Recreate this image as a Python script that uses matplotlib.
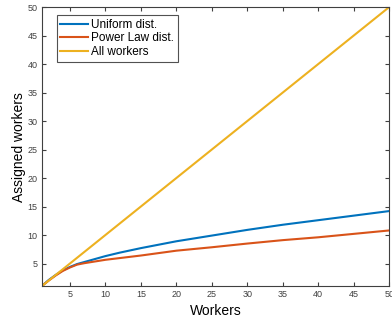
import matplotlib
matplotlib.use('Agg')
import matplotlib.pyplot as plt

# Dati
workers = [1, 2, 3, 4, 5, 6, 7, 8, 9, 10, 12, 15, 20, 25, 30, 35, 40, 45, 50]
uniform = [1.0, 2.1, 3.0, 3.8, 4.4, 4.9, 5.25, 5.6, 5.95, 6.3, 6.9, 7.7, 8.9, 9.9, 10.9, 11.8, 12.6, 13.4, 14.2]
power_law = [1.0, 2.0, 2.9, 3.7, 4.3, 4.8, 5.05, 5.25, 5.45, 5.65, 5.95, 6.4, 7.25, 7.85, 8.5, 9.1, 9.6, 10.2, 10.8]
all_workers = [1, 50]
all_x = [1, 50]

ticks = [5, 10, 15, 20, 25, 30, 35, 40, 45, 50]

plt.rcParams['font.family'] = ['Liberation Sans', 'DejaVu Sans']

fig = plt.figure(figsize=(3.92, 3.19), dpi=100)
ax = fig.add_axes([0.106, 0.1025, 0.887, 0.8755])

ax.plot(workers, uniform, color=(0, 0.447, 0.741), lw=1.5, label='Uniform dist.')
ax.plot(workers, power_law, color=(0.85, 0.325, 0.098), lw=1.5, label='Power Law dist.')
ax.plot(all_x, all_workers, color=(0.929, 0.694, 0.125), lw=1.5, label='All workers')

ax.set_xlim(1, 50)
ax.set_ylim(1, 50)
ax.set_xticks(ticks)
ax.set_yticks(ticks)
ax.tick_params(direction='in', length=3, labelsize=6.5, colors='#404040',
               top=True, right=True, pad=3)
for s in ax.spines.values():
    s.set_color('#404040')
    s.set_linewidth(0.8)

ax.set_xlabel('Workers', fontsize=10, labelpad=3)
ax.set_ylabel('Assigned workers', fontsize=10, labelpad=1)

leg = ax.legend(loc='upper left', bbox_to_anchor=(0.044, 0.971), fontsize=8.5,
                frameon=True, fancybox=False, handlelength=2.3,
                handletextpad=0.3, borderpad=0.3, labelspacing=0.15,
                borderaxespad=0)
leg.get_frame().set_edgecolor('#262626')
leg.get_frame().set_linewidth(0.8)

fig.savefig('out.png', dpi=100)
